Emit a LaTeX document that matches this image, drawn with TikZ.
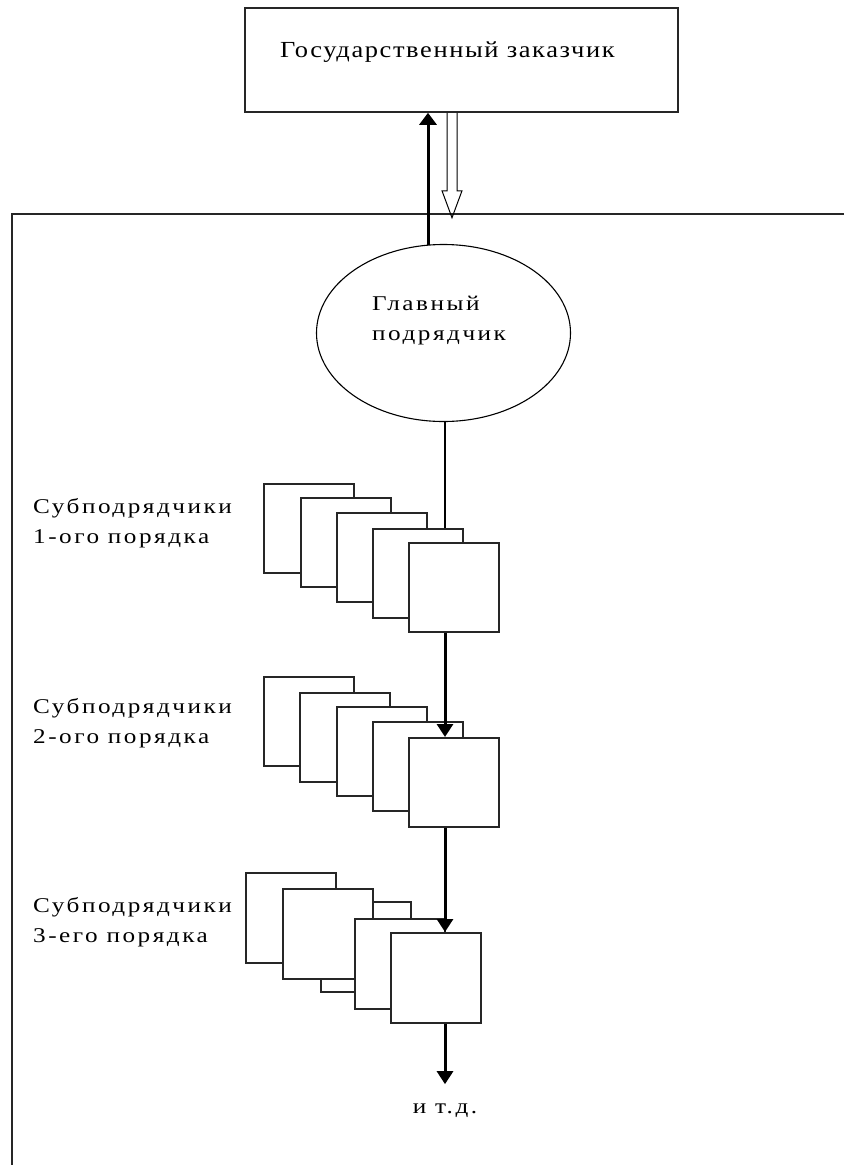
\documentclass[tikz,border=0pt]{standalone}
\usepackage{fontspec}
\setmainfont{Liberation Serif}
\newfontfamily\spacedfont[LetterSpace=12, FakeStretch=1.2]{Liberation Serif}
\newfontfamily\titlefont[LetterSpace=7, FakeStretch=1.15]{Liberation Serif}
\usetikzlibrary{arrows.meta, positioning, shapes.geometric, calc}

\begin{document}
\begin{tikzpicture}[x=1pt, y=-1pt,
	box/.style={draw=black!85, line width=1.5pt, rectangle, inner sep=0pt},
	sheet/.style={draw=black!85, line width=1.5pt, fill=white, rectangle, inner sep=0pt, minimum width=90pt, minimum height=89pt, anchor=north west},
	txt/.style={font=\spacedfont\fontsize{21}{30}\selectfont, inner sep=0pt, align=left},
	flow/.style={line width=3pt, -{Triangle[width=16pt,length=13pt]}}]
	
	\path[use as bounding box] (0,0) rectangle (844,1165);
	
	% Nodes
	\node [box, minimum width=433pt, minimum height=104pt] (client) at (461.5,60) {};
	\node [txt, anchor=base west, font=\titlefont\fontsize{23}{26}\selectfont] (clienttext) at (280,57) {Государственный заказчик};
	\node [draw, ellipse, line width=1.1pt, inner sep=0pt, minimum width=254pt, minimum height=177pt] (main) at (443.5,333) {};
	\node [txt, anchor=base west] (maintext) at (372,340) {Главный\\подрядчик};
	\coordinate (spine) at (445,0);
	
	% Frame
	\draw [line width=1.4pt, black!85] (844,214) -| (12,1165);
	
	% Stacks
	\foreach \n/\x/\y in {1/263/483, 2/300/497, 3/336/512, 4/372/528, 5/408/542}
		\node [sheet] (s1b\n) at (\x,\y) {};
	\foreach \n/\x/\y in {1/263/676, 2/299/692, 3/336/706, 4/372/721, 5/408/737}
		\node [sheet] (s2b\n) at (\x,\y) {};
	\foreach \n/\x/\y in {1/245/872, 3/320/901, 2/282/888, 4/354/918, 5/390/932}
		\node [sheet, minimum height=90pt] (s3b\n) at (\x,\y) {};
	
	% Arrows
	\draw [line width=3pt, -{Triangle[width=17pt,length=12pt]}] ($(main.north)+(-15.5,1)$) -- ($(client.south)+(-33.5,0)$);
	\draw [line width=1pt] ($(client.south)+(-14.5,0)$) -- ++(0,78) -- ++(-5,0) -- ++(10,27) -- ++(10,-27) -- ++(-5,0) -- ++(0,-78);
	\draw [line width=2.8pt] (main.south -| spine) -- (s1b4.north -| spine);
	\draw [flow] (s1b5.south -| spine) -- (s2b5.north -| spine);
	\draw [flow] (s2b5.south -| spine) -- (s3b5.north -| spine);
	
	% Labels
	\node [txt, anchor=base west] (order1) at (33,543) {Субподрядчики\\1-ого порядка};
	\node [txt, anchor=base west] (order2) at (33,743) {Субподрядчики\\2-ого порядка};
	\node [txt, anchor=base west] (order3) at (33,942) {Субподрядчики\\3-его порядка};
	\node [txt, anchor=base] (etc) at (445,1113) {и т.д.};
	\draw [flow, shorten >=19pt] (s3b5.south -| spine) -- (etc.north -| spine);
	
\end{tikzpicture}
\end{document}
